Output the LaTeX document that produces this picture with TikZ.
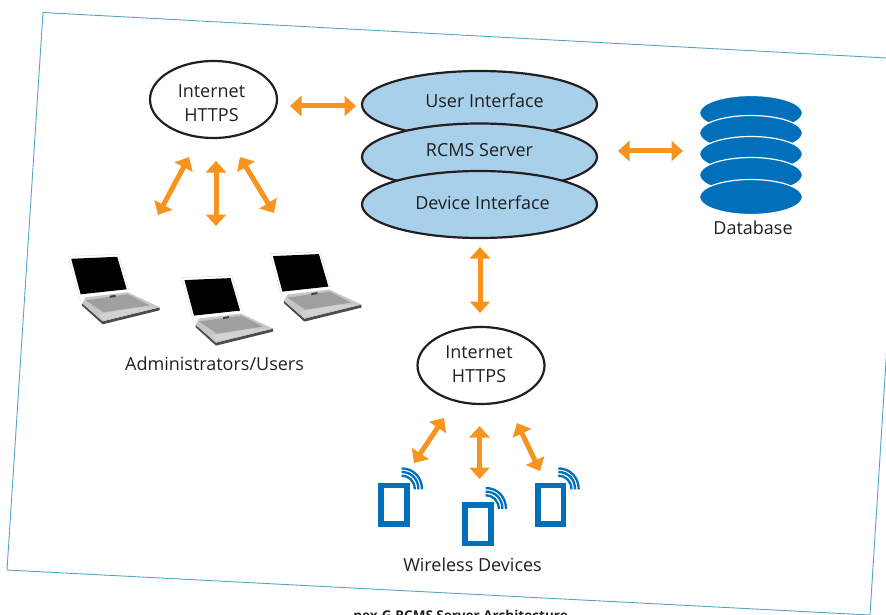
\documentclass[tikz,border=0pt]{standalone}
\usepackage{fontspec}
\setmainfont{Open Sans}
\usetikzlibrary{arrows.meta,shapes.geometric}

\definecolor{arrowOrange}{HTML}{F7941E}
\definecolor{diskBlue}{HTML}{0070BA}
\definecolor{serverBlue}{HTML}{A8D0EA}
\definecolor{frameBlue}{HTML}{55A5C8}
\definecolor{inkBlack}{HTML}{231F20}

\tikzset{
  label/.style={font=\fontsize{18}{23.5}\selectfont, text=inkBlack, align=center, inner sep=0},
  web/.style={ellipse, draw=inkBlack, line width=2.2pt, fill=white, inner sep=0,
    minimum width=127pt, minimum height=77pt, label},
  server/.style={ellipse, draw=inkBlack, line width=2.2pt, fill=serverBlue, inner sep=0,
    minimum width=235pt, minimum height=67pt, label},
  disk/.style={ellipse, draw=white, line width=1.2pt, fill=diskBlue, inner sep=0,
    minimum width=103pt, minimum height=35pt},
  biarrow/.style={draw=arrowOrange, line width=5pt,
    {Triangle[length=11.5pt,width=20pt]}-{Triangle[length=11.5pt,width=20pt]}},
  pics/laptop/.style={code={
    \fill[white] (-3.5,-3) -- (47,-5) -- (57,31) -- (58,34) -- (14,40) -- (9,42) -- cycle;
    \draw[gray!20, line width=.6pt] (-3.5,-3) -- (47,-5) -- (57,31);
    \draw[gray!20, line width=.6pt] (-3.5,-3) -- (9,42);
    \fill[black] (-.5,-.5) -- (45.5,-2.5) -- (55,30) -- (9,35) -- cycle;
    \fill[gray!60!black] (10.5,44) -- (31,62) -- (88,48) -- (88,51) -- (31,65) -- (10.5,46.5) -- cycle;
    \fill[gray!45] (10.5,44) -- (14,38) -- (56,33) -- (88,48) -- (31,62) -- cycle;
    \fill[gray!75] (14,41) -- (56,35) -- (78,46) -- (32,53) -- cycle;
    \fill[gray!35] (27,55) -- (64,48.5) -- (85,48) -- (31,61) -- cycle;
    \fill[gray!50!black] (38,36.5) -- (44,35.5) -- (44,37.5) -- (38,38.5) -- cycle;
  }},
  pics/device/.style={code={
    \draw[diskBlue, line width=5.6pt] (2.8,2.8) rectangle (28.6,41.2);
    \draw[diskBlue, line width=2.3pt] (23.3,-14.3) .. controls (35,-14.3) and (43.7,-5.5) .. (43.7,6.7);
    \draw[diskBlue, line width=2.3pt] (23.3,-10.7) .. controls (33,-10.7) and (40.1,-3.8) .. (40.1,6.7);
    \draw[diskBlue, line width=2.3pt] (23.3,-7.1) .. controls (30.5,-7.1) and (36.5,-1.5) .. (36.5,6.7);
  }}
}

\begin{document}
\begin{tikzpicture}[x=1pt, y=-1pt]
  \useasboundingbox (0,0) rectangle (886,615);
  \clip (0,0) rectangle (886,615);

  % sheet outline
  \draw[frameBlue, line width=.9pt] (43,12.5) -- (905,59) -- (870,615) -- (7,570) -- cycle;

  % server stack
  \node[server] (userIf) at (479.5,104.5) {\hspace{10pt}\raisebox{7pt}{User Interface}};
  \node[server] (rcms) at (479.5,157) {\raisebox{15pt}{RCMS Server}};
  \node[server] (deviceIf) at (479.5,204.5) {\hspace{6pt}\raisebox{3pt}{Device Interface}};

  % database
  \node[disk] (diskA) at (751,113) {};
  \node[disk] (diskB) at (751,133) {};
  \node[disk] (diskC) at (751,154) {};
  \node[disk] (diskD) at (751,175) {};
  \node[disk] (diskE) at (751,197) {};
  \node[label] (dbText) at (753,228) {Database};

  % internet clouds
  \node[web] (webTop) at (213.5,99.5) {\hspace{-4pt}\rule{0pt}{20pt}Internet\\\hspace{-4pt}HTTPS};
  \node[web] (webBottom) at (481,365.5) {\hspace{-4pt}Internet\\\hspace{-4pt}\rule[-3pt]{0pt}{3pt}HTTPS};

  % laptops
  \pic (lapA) at (71.7,259.3) {laptop};
  \pic (lapB) at (185,280.6) {laptop};
  \pic (lapC) at (273.4,256.6) {laptop};
  \node[label] (adminText) at (214.5,364) {Administrators/Users};

  % wireless devices
  \pic (devA) at (378.3,482.7) {device};
  \pic (devB) at (462.3,502.3) {device};
  \pic (devC) at (535,482.7) {device};
  \node[label] (wirelessText) at (472.5,565) {Wireless Devices};

  % caption
  \node[font=\fontsize{13.5}{15}\bfseries\selectfont, text=inkBlack, anchor=base, inner sep=0]
    (caption) at (460.5,620) {nex-G RCMS Server Architecture};

  % arrow ends
  \coordinate (webEast) at (290,106);
  \coordinate (userWest) at (356,106);
  \coordinate (rcmsEast) at (618,151);
  \coordinate (diskWest) at (683,151);
  \coordinate (deviceSouth) at (480,247);
  \coordinate (webBottomNorth) at (480,313);
  \coordinate (webA) at (189,157);
  \coordinate (lapAEnd) at (158,215);
  \coordinate (webB) at (216,161);
  \coordinate (lapBEnd) at (216,226);
  \coordinate (webC) at (240,157);
  \coordinate (lapCEnd) at (274,213);
  \coordinate (webBottomA) at (444,418);
  \coordinate (devAEnd) at (414,463);
  \coordinate (webBottomB) at (479.5,426);
  \coordinate (devBEnd) at (479.5,479);
  \coordinate (webBottomC) at (517,423);
  \coordinate (devCEnd) at (540,471);

  \draw[biarrow] (webEast) -- (userWest);
  \draw[biarrow] (rcmsEast) -- (diskWest);
  \draw[biarrow] (deviceSouth) -- (webBottomNorth);
  \draw[biarrow] (webA) -- (lapAEnd);
  \draw[biarrow] (webB) -- (lapBEnd);
  \draw[biarrow] (webC) -- (lapCEnd);
  \draw[biarrow] (webBottomA) -- (devAEnd);
  \draw[biarrow] (webBottomB) -- (devBEnd);
  \draw[biarrow] (webBottomC) -- (devCEnd);
\end{tikzpicture}
\end{document}
